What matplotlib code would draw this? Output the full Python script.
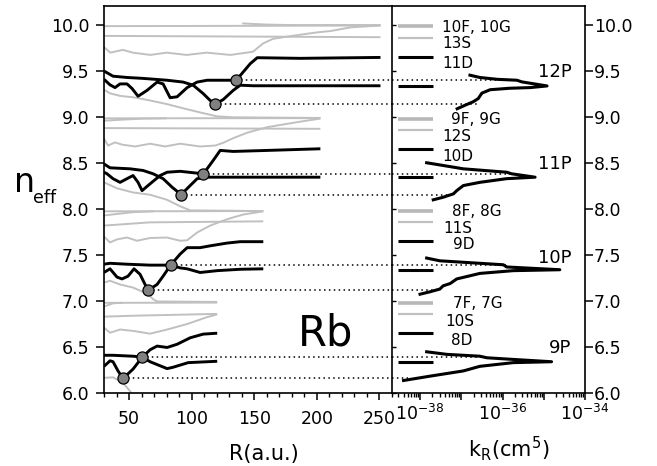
import matplotlib
matplotlib.use('Agg')
import matplotlib.pyplot as plt
import numpy as np
from matplotlib.ticker import FixedLocator, FuncFormatter, NullFormatter, FormatStrFormatter

plt.rcParams['font.family'] = ['DejaVu Sans']
plt.rcParams['mathtext.default'] = 'regular'

# ---------------- data (R in a.u., n_eff) ----------------
# 12P group
g12_fg_R = [30, 100, 250.8]; g12_fg_n = [9.988, 9.99, 9.995]
g12_fg2_R = [140.4, 160, 180, 250.8]; g12_fg2_n = [10.018, 10.005, 10.0, 10.0]
g12_s_R = [30, 250.8]; g12_s_n = [9.882, 9.868]
g12_wavy_R = [30, 35, 45, 53, 67, 80, 96, 112, 131, 149, 157, 165, 179, 200, 211, 227, 250.8]
g12_wavy_n = [9.76, 9.70, 9.73, 9.70, 9.675, 9.70, 9.675, 9.70, 9.675, 9.71, 9.80, 9.85, 9.88, 9.92, 9.935, 9.975, 9.995]
g12_desc_R = [30, 34.8, 42.8, 53.2, 66.8, 80.4, 93.2, 106.8, 120.4, 133.2, 202.8]
g12_desc_n = [9.297, 9.258, 9.23, 9.215, 9.18, 9.14, 9.095, 9.05, 9.007, 8.997, 8.99]
g12_p_R = [30, 37.2, 48.4, 61.2, 80.4, 93.2, 101.2, 109.2, 114.8, 118.8, 125.2, 133.2, 138.8, 149.2, 250.8]
g12_p_n = [9.50, 9.444, 9.43, 9.42, 9.40, 9.38, 9.346, 9.255, 9.18, 9.139, 9.19, 9.29, 9.346, 9.34, 9.34]
g12_d_R = [30, 34.8, 38.8, 42.8, 48.4, 52.4, 57.2, 64.4, 72.4, 77.2, 82.8, 88.4, 96.4, 104.4, 112.4, 128.4, 135.6, 141.2, 146.8, 152.4, 186.8, 250.8]
g12_d_n = [9.41, 9.35, 9.32, 9.36, 9.36, 9.31, 9.226, 9.29, 9.38, 9.36, 9.21, 9.22, 9.32, 9.38, 9.40, 9.40, 9.40, 9.49, 9.58, 9.645, 9.638, 9.648]
g12_circ_R = [118.8, 135.6]; g12_circ_n = [9.139, 9.40]

# 11P group
g11_fg_R = [30, 202.8]; g11_fg_n = [8.986, 8.988]
g11_fg2_R = [30, 45, 60, 80]; g11_fg2_n = [8.96, 8.972, 8.982, 8.986]
g11_s_R = [30, 202.8]; g11_s_n = [8.88, 8.872]
g11_wavy_R = [30, 33.2, 38.8, 44.4, 54.8, 66.8, 78.8, 90.8, 106.8, 118.8, 125.2, 133.2, 144.4, 160.4, 186.8, 202.8]
g11_wavy_n = [8.765, 8.69, 8.724, 8.70, 8.68, 8.71, 8.68, 8.71, 8.68, 8.69, 8.72, 8.77, 8.83, 8.89, 8.95, 8.983]
g11_desc_R = [30, 40.4, 53.2, 66.8, 80.4, 90.8, 98.8, 157.2]
g11_desc_n = [8.29, 8.225, 8.18, 8.155, 8.10, 8.03, 7.985, 7.978]
g11_p_R = [30, 34.8, 50.8, 61.2, 69.2, 77.2, 84.4, 91.6, 98.8, 104.4, 112.4, 202.8]
g11_p_n = [8.49, 8.448, 8.437, 8.419, 8.383, 8.33, 8.237, 8.157, 8.255, 8.33, 8.346, 8.346]
g11_d_R = [30, 32.4, 37.2, 42.8, 48.4, 53.2, 57.2, 60.4, 66.8, 74.8, 80.4, 90.8, 104.4, 109.4, 117.2, 122.8, 133.2, 160.4, 202.8]
g11_d_n = [8.40, 8.383, 8.33, 8.29, 8.33, 8.364, 8.29, 8.20, 8.274, 8.364, 8.40, 8.41, 8.39, 8.383, 8.528, 8.637, 8.626, 8.637, 8.655]
g11_circ_R = [91.6, 109.4]; g11_circ_n = [8.157, 8.383]

# 10P group
g10_fg_R = [30, 157.2]; g10_fg_n = [7.975, 7.978]
g10_fg2_R = [30, 42.8, 53.2, 70]; g10_fg2_n = [7.93, 7.95, 7.966, 7.975]
g10_s_R = [30, 66.8, 157.2]; g10_s_n = [7.82, 7.855, 7.866]
g10_wavy_R = [30, 34.8, 40.4, 48.4, 56.4, 66.8, 80.4, 90.8, 96.4, 104.4, 114.8, 128.4, 141.2, 157.2]
g10_wavy_n = [7.70, 7.637, 7.67, 7.69, 7.655, 7.685, 7.69, 7.655, 7.66, 7.745, 7.82, 7.89, 7.94, 7.975]
g10_desc_R = [30, 34.8, 42.8, 53.2, 65.2, 69.2, 72.4, 120.4]
g10_desc_n = [7.20, 7.22, 7.18, 7.146, 7.075, 7.02, 6.995, 6.99]
g10_p_R = [30, 34.8, 48.4, 66.8, 83.2, 90.8, 96.4, 106.8, 120.4, 138.8, 157.2]
g10_p_n = [7.40, 7.41, 7.40, 7.39, 7.39, 7.36, 7.35, 7.31, 7.33, 7.345, 7.35]
g10_d_R = [30, 34.8, 40.4, 44.4, 49.2, 54, 58.8, 62.8, 65.4, 72.4, 77.2, 83.2, 90.8, 96.4, 106.8, 114.8, 128.4, 138.8, 157.2]
g10_d_n = [7.31, 7.35, 7.26, 7.24, 7.27, 7.35, 7.29, 7.18, 7.118, 7.18, 7.27, 7.39, 7.51, 7.58, 7.58, 7.60, 7.63, 7.645, 7.645]
g10_circ_R = [65.4, 83.2]; g10_circ_n = [7.118, 7.39]

# 9P group
g9_fg_R = [30, 120.4]; g9_fg_n = [6.98, 6.983]
g9_fg2_R = [30, 37.2, 45]; g9_fg2_n = [6.94, 6.975, 6.98]
g9_s_R = [30, 53.2, 120.4]; g9_s_n = [6.83, 6.84, 6.86]
g9_wavy_R = [30, 34.8, 42.8, 53.2, 66.8, 80.4, 96.4, 112.4, 120.4]
g9_wavy_n = [6.71, 6.655, 6.69, 6.675, 6.645, 6.69, 6.75, 6.825, 6.855]
g9_desc_R = [30, 37.2, 45.2, 50.8, 53]; g9_desc_n = [6.165, 6.17, 6.11, 6.02, 5.98]
g9_p_R = [30, 37.2, 53.2, 60.6, 66.8, 80.4, 85.2, 97.2, 120.4]
g9_p_n = [6.41, 6.41, 6.40, 6.39, 6.34, 6.265, 6.28, 6.33, 6.345]
g9_d_R = [30, 34.8, 37.2, 41.2, 45.2, 53.2, 60.6, 66.8, 72.4, 80.4, 88.4, 98.8, 109.2, 120.4]
g9_d_n = [6.29, 6.35, 6.34, 6.24, 6.158, 6.26, 6.39, 6.47, 6.51, 6.495, 6.53, 6.60, 6.64, 6.65]
g9_circ_R = [45.2, 60.6]; g9_circ_n = [6.158, 6.39]

# right panel: level markers (n_eff)
lev_fg = [9.993, 8.983, 7.975, 6.983]
lev_s = [9.862, 8.855, 7.855, 6.856]
lev_d = [9.655, 8.655, 7.655, 6.655]
lev_p = [9.338, 8.346, 7.336, 6.336]
lev_span_log = [-38.53, -37.68]

# right panel: k_R curves (log10 k_R, n_eff)
k12_log = [-36.79, -36.55, -36.13, -35.65, -35.53, -34.92, -35.33, -35.82, -36.30, -36.50, -36.59, -36.72, -36.91, -37.10]
k12_n = [9.455, 9.43, 9.41, 9.40, 9.382, 9.338, 9.32, 9.313, 9.297, 9.26, 9.20, 9.164, 9.128, 9.09]
k11_log = [-37.84, -36.95, -35.90, -35.78, -35.21, -35.90, -36.55, -36.95, -37.11, -37.19, -37.44, -37.68]
k11_n = [8.503, 8.437, 8.40, 8.383, 8.346, 8.33, 8.29, 8.255, 8.20, 8.165, 8.128, 8.10]
k10_log = [-37.84, -37.52, -36.55, -35.98, -35.90, -34.61, -35.74, -36.55, -37.11, -37.27, -37.44, -37.52, -37.76, -38.0]
k10_n = [7.467, 7.437, 7.41, 7.394, 7.37, 7.34, 7.33, 7.30, 7.24, 7.19, 7.165, 7.13, 7.10, 7.074]
k9_log = [-37.84, -37.35, -36.55, -36.38, -35.74, -34.81, -35.74, -36.55, -36.95, -37.76, -38.40]
k9_n = [6.448, 6.42, 6.40, 6.383, 6.365, 6.34, 6.33, 6.29, 6.24, 6.183, 6.136]

# dotted guide lines: right-panel end (log10 k_R), ordered like the circles
dot_end_log = [[-36.6, -35.6], [-37.27, -35.8], [-37.5, -35.9], [-38.3, -36.47]]

# labels of the right panel
lab_text = ['10F, 10G', '13S', '11D', '12P', '9F, 9G', '12S', '10D', '11P',
            '8F, 8G', '11S', '9D', '10P', '7F, 7G', '10S', '8D', '9P']
lab_log = [-37.467, -37.467, -37.467, -35.14, -37.256, -37.467, -37.467, -35.14,
           -37.23, -37.44, -37.21, -35.14, -37.21, -37.39, -37.256, -34.87]
lab_n = [9.978, 9.80, 9.585, 9.49, 8.975, 8.79, 8.57, 8.485,
         7.975, 7.79, 7.61, 7.47, 6.97, 6.78, 6.57, 6.49]
lab_size = [11, 11, 11, 13, 11, 11, 11, 13,
            11, 11, 11, 13, 11, 11, 11, 13]

x1_ticks = [50, 100, 150, 200, 250]
x1_minor = [30, 40, 60, 70, 80, 90, 110, 120, 130, 140, 160, 170, 180, 190, 210, 220, 230, 240, 260]
y_ticks = [6.0, 6.5, 7.0, 7.5, 8.0, 8.5, 9.0, 9.5, 10.0]
x2_decades = [-38, -37, -36, -35, -34]

x1lim = (30, 260)
ylim = (6.0, 10.207)
x2lim_log = (-38.68, -34.0)

# ---------------- figure ----------------
W, H = 657, 466
fig = plt.figure(figsize=(W / 100, H / 100), dpi=100)
ax1 = fig.add_axes([104 / W, 1 - 393 / H, 288 / W, 387 / H])
ax2 = fig.add_axes([392 / W, 1 - 393 / H, 193 / W, 387 / H])

GRAY = '#c0c0c0'
GRAY_FG = '#b8b8b8'
LW_B = 2.1
LW_G = 1.4

groups = [
    (g12_fg_R, g12_fg_n, g12_fg2_R, g12_fg2_n, g12_s_R, g12_s_n, g12_wavy_R, g12_wavy_n,
     g12_desc_R, g12_desc_n, g12_p_R, g12_p_n, g12_d_R, g12_d_n, g12_circ_R, g12_circ_n),
    (g11_fg_R, g11_fg_n, g11_fg2_R, g11_fg2_n, g11_s_R, g11_s_n, g11_wavy_R, g11_wavy_n,
     g11_desc_R, g11_desc_n, g11_p_R, g11_p_n, g11_d_R, g11_d_n, g11_circ_R, g11_circ_n),
    (g10_fg_R, g10_fg_n, g10_fg2_R, g10_fg2_n, g10_s_R, g10_s_n, g10_wavy_R, g10_wavy_n,
     g10_desc_R, g10_desc_n, g10_p_R, g10_p_n, g10_d_R, g10_d_n, g10_circ_R, g10_circ_n),
    (g9_fg_R, g9_fg_n, g9_fg2_R, g9_fg2_n, g9_s_R, g9_s_n, g9_wavy_R, g9_wavy_n,
     g9_desc_R, g9_desc_n, g9_p_R, g9_p_n, g9_d_R, g9_d_n, g9_circ_R, g9_circ_n),
]

for gi, g in enumerate(groups):
    (fgR, fgn, fg2R, fg2n, sR, sn, wR, wn, dsR, dsn, pR, pn, dR, dn, cR, cn) = g
    for R, n in ((fgR, fgn), (fg2R, fg2n), (sR, sn), (wR, wn), (dsR, dsn)):
        ax1.plot(R, n, color=GRAY, lw=LW_G, solid_capstyle='butt', zorder=2)
    for R, n in ((pR, pn), (dR, dn)):
        ax1.plot(R, n, color='black', lw=LW_B, solid_capstyle='butt', zorder=3)
    for k in range(2):
        ax1.plot([cR[k], x1lim[1]], [cn[k], cn[k]], color='black', lw=1.1,
                 linestyle=(0, (1, 2.2)), zorder=2)
        ax2.plot([10 ** x2lim_log[0], 10 ** dot_end_log[gi][k]], [cn[k], cn[k]],
                 color='black', lw=1.1, linestyle=(0, (1, 2.2)), zorder=2)
    ax1.plot(cR, cn, linestyle='none', marker='o', ms=8, mfc='#808080', mec='black',
             mew=0.9, zorder=5)

ax1.set_xlim(*x1lim)
ax1.set_ylim(*ylim)

# right panel
xs = [10 ** v for v in lev_span_log]
for n in lev_fg:
    ax2.plot(xs, [n, n], color=GRAY_FG, lw=2.6, solid_capstyle='butt')
for n in lev_s:
    ax2.plot(xs, [n, n], color=GRAY, lw=1.6, solid_capstyle='butt')
for n in lev_d + lev_p:
    ax2.plot(xs, [n, n], color='black', lw=2.2, solid_capstyle='butt')

for L, n in ((k12_log, k12_n), (k11_log, k11_n), (k10_log, k10_n), (k9_log, k9_n)):
    ax2.plot([10 ** v for v in L], n, color='black', lw=2.2, solid_joinstyle='round', zorder=3)

for t, L, n, s in zip(lab_text, lab_log, lab_n, lab_size):
    ax2.text(10 ** L, n, t, fontsize=s, ha='left', va='center')

ax2.set_xscale('log')
ax2.set_xlim(10 ** x2lim_log[0], 10 ** x2lim_log[1])
ax2.set_ylim(*ylim)

# ---------------- ticks & spines ----------------
for ax in (ax1, ax2):
    for sp in ax.spines.values():
        sp.set_linewidth(1.2)
ax1.spines['right'].set_visible(False)

ax1.xaxis.set_major_locator(FixedLocator(x1_ticks))
ax1.xaxis.set_minor_locator(FixedLocator(x1_minor))
ax1.yaxis.set_major_locator(FixedLocator(y_ticks))
ax1.yaxis.set_major_formatter(FormatStrFormatter('%.1f'))
ax1.tick_params(axis='x', which='major', direction='out', length=5, width=1.1,
                labelsize=12.5, pad=7, top=False)
ax1.tick_params(axis='x', which='minor', direction='out', length=2.8, width=1.0, top=False)
ax1.tick_params(axis='y', which='major', direction='out', length=5.5, width=1.1,
                labelsize=12.5, pad=5, right=False)

# inward ticks on the divider
ax3 = ax2.twinx()
ax3.set_ylim(*ylim)
ax3.yaxis.set_major_locator(FixedLocator(y_ticks))
ax3.yaxis.tick_left()
ax3.tick_params(axis='y', direction='in', length=3, width=1.0, labelleft=False, labelright=False)
for sp in ax3.spines.values():
    sp.set_visible(False)

ax2.yaxis.set_major_locator(FixedLocator(y_ticks))
ax2.yaxis.set_major_formatter(FormatStrFormatter('%.1f'))
ax2.yaxis.tick_right()
ax2.tick_params(axis='y', which='major', direction='out', length=5.5, width=1.1,
                labelsize=12.5, pad=1, left=False)
x2_major = [10.0 ** e for e in x2_decades]
x2_minor = [m * 10.0 ** e for e in range(-39, -34) for m in range(2, 10)
            if x2lim_log[0] <= np.log10(m * 10.0 ** e) <= x2lim_log[1]]
ax2.xaxis.set_major_locator(FixedLocator(x2_major))
ax2.xaxis.set_minor_locator(FixedLocator(x2_minor))
ax2.xaxis.set_minor_formatter(NullFormatter())


def fmt(v, pos):
    e = int(round(np.log10(v)))
    return r'$\mathregular{10^{%d}}$' % e if e % 2 == 0 else ''


ax2.xaxis.set_major_formatter(FuncFormatter(fmt))
ax2.tick_params(axis='x', which='major', direction='out', length=5, width=1.1,
                labelsize=12.5, pad=3, top=False)
ax2.tick_params(axis='x', which='minor', direction='out', length=2.8, width=1.0, top=False)

# ---------------- labels ----------------
fig.text(264 / W, 1 - 460 / H, 'R(a.u.)', fontsize=15, ha='center', va='baseline')
fig.text(509 / W, 1 - 457 / H, r'$\mathregular{k_R(cm^5)}$', fontsize=15, ha='center', va='baseline')
fig.text(14 / W, 1 - 191.7 / H, 'n', fontsize=24, ha='left', va='baseline')
fig.text(33 / W, 1 - 203 / H, 'eff', fontsize=12.5, ha='left', va='baseline')
fig.text(325.5 / W, 1 - 345 / H, 'Rb', fontsize=30, ha='center', va='baseline')

fig.savefig('out.png', dpi=100)
